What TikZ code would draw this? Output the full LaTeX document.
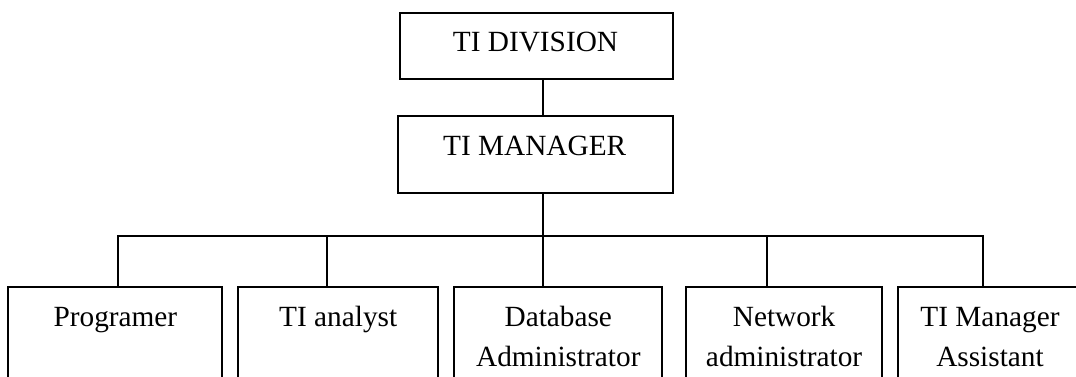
\documentclass[tikz,border=0pt]{standalone}
\usepackage{fontspec}
\setmainfont{Liberation Serif}
\begin{document}
\begin{tikzpicture}[x=1pt,y=-1pt,
  box/.style={draw, line width=2pt, rectangle, inner sep=0pt},
  lbl/.style={anchor=base, align=center, inner sep=0pt, font=\fontsize{29.3}{40}\selectfont},
  link/.style={line width=2pt}]
\useasboundingbox (0,0) rectangle (1076,377);
\clip (0,0) rectangle (1076,377);
% top boxes
\node[box, minimum width=273pt, minimum height=66pt] (div) at (536.5,46) {};
\node[box, minimum width=275pt, minimum height=77pt] (mgr) at (535.5,154.5) {};
% bottom boxes (run past the lower edge)
\node[box, minimum width=214pt, minimum height=133pt] (b1) at (115.4,353.5) {};
\node[box, minimum width=200.5pt, minimum height=133pt] (b2) at (338.2,353.5) {};
\node[box, minimum width=208pt, minimum height=133pt] (b3) at (558.3,353.5) {};
\node[box, minimum width=196.3pt, minimum height=133pt] (b4) at (784.1,353.5) {};
\node[box, minimum width=184pt, minimum height=133pt] (b5) at (990,353.5) {};
% labels
\node[lbl] (tdiv) at (535.5,51.7) {TI DIVISION};
\node[lbl] (tmgr) at (534.7,155) {TI MANAGER};
\node[lbl] (t1) at (115.4,326.5) {Programer};
\node[lbl] (t2) at (338.2,326.5) {TI analyst};
\node[lbl] (t3) at (558.3,366.5) {Database\\Administrator};
\node[lbl] (t4) at (784.1,366.5) {Network\\administrator};
\node[lbl] (t5) at (990,366.5) {TI Manager\\Assistant};
% connectors
\coordinate (m) at (543,235.5);
\coordinate (d1) at (118.3,235.5);
\coordinate (d2) at (327,235.5);
\coordinate (d4) at (766.7,235.5);
\coordinate (d5) at (982.7,235.5);
\draw[link] (div.south -| m) -- (mgr.north -| m);
\draw[link] (mgr.south -| m) -- (b3.north -| m);
\draw[link] (b1.north -| d1) -- (d1) -- (d5) -- (b5.north -| d5);
\draw[link] (d2) -- (b2.north -| d2);
\draw[link] (d4) -- (b4.north -| d4);
\end{tikzpicture}
\end{document}
